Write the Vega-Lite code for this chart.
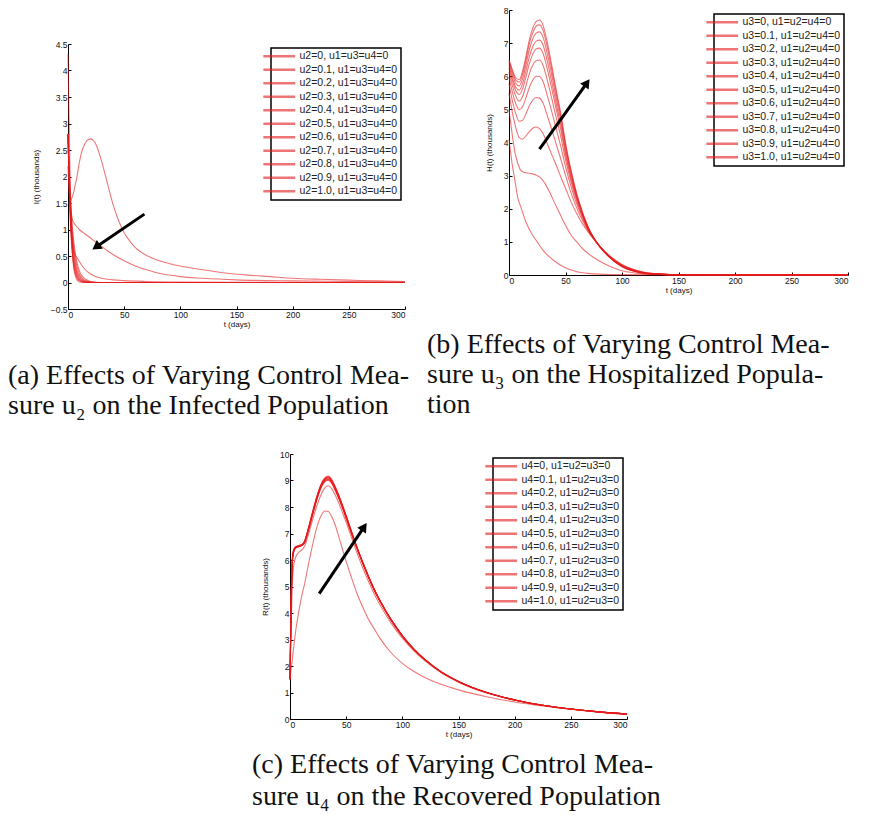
{
"$schema": "https://vega.github.io/schema/vega-lite/v6.json",
"padding": {"left": 8, "top": 6, "right": 0, "bottom": 0},
"background": "white",
"config": {
  "view": {"stroke": null},
  "title": {"font": "Liberation Serif", "fontSize": 28, "fontWeight": "normal", "color": "#111", "lineHeight": 30},
  "axis": {"grid": false, "domainColor": "black", "domainWidth": 1, "tickColor": "black", "tickSize": -3, "labelFont": "Liberation Sans", "labelFontSize": 8.5, "labelColor": "#111", "labelPadding": 4, "labelOverlap": false, "titleFont": "Liberation Sans", "titleFontSize": 8, "titleFontWeight": "normal", "titleColor": "#111"},
  "axisX": {"titlePadding": 2},
  "axisY": {"titlePadding": 10},
  "legend": {"orient": "top-right", "offset": 4, "strokeColor": "black", "strokeWidth": 1.5, "fillColor": "white", "padding": 3, "labelFont": "Liberation Sans", "labelFontSize": 10.5, "labelColor": "#222", "rowPadding": 2.5, "symbolType": "M-5.3,0H5.3", "symbolSize": 36, "symbolStrokeWidth": 2.5, "labelOffset": 15, "labelLimit": 200}
},
"resolve": {"scale": {"color": "independent"}, "legend": {"color": "independent"}},
"datasets": {
  "a": [
    {"s":0,"t":0,"v":1.5},{"s":0,"t":1,"v":1.5},{"s":0,"t":2,"v":1.53},{"s":0,"t":3,"v":1.57},{"s":0,"t":4,"v":1.63},{"s":0,"t":5,"v":1.7},{"s":0,"t":6,"v":1.8},{"s":0,"t":8,"v":2.0},{"s":0,"t":10,"v":2.25},{"s":0,"t":12,"v":2.45},{"s":0,"t":15,"v":2.62},{"s":0,"t":18,"v":2.7},{"s":0,"t":20,"v":2.71},{"s":0,"t":22,"v":2.69},{"s":0,"t":25,"v":2.6},{"s":0,"t":30,"v":2.28},{"s":0,"t":35,"v":1.88},{"s":0,"t":40,"v":1.48},{"s":0,"t":45,"v":1.17},{"s":0,"t":50,"v":0.94},{"s":0,"t":55,"v":0.78},{"s":0,"t":60,"v":0.66},{"s":0,"t":70,"v":0.51},{"s":0,"t":80,"v":0.42},{"s":0,"t":90,"v":0.36},{"s":0,"t":100,"v":0.31},{"s":0,"t":120,"v":0.24},{"s":0,"t":140,"v":0.18},{"s":0,"t":160,"v":0.14},{"s":0,"t":180,"v":0.11},{"s":0,"t":200,"v":0.08},{"s":0,"t":225,"v":0.06},{"s":0,"t":250,"v":0.045},{"s":0,"t":275,"v":0.03},{"s":0,"t":300,"v":0.02},
    {"s":0.1,"t":0,"v":2.2},{"s":0.1,"t":1,"v":1.75},{"s":0.1,"t":2,"v":1.45},{"s":0.1,"t":3,"v":1.28},{"s":0.1,"t":4,"v":1.18},{"s":0.1,"t":5,"v":1.13},{"s":0.1,"t":6,"v":1.1},{"s":0.1,"t":8,"v":1.05},{"s":0.1,"t":10,"v":1.0},{"s":0.1,"t":15,"v":0.92},{"s":0.1,"t":20,"v":0.84},{"s":0.1,"t":25,"v":0.76},{"s":0.1,"t":30,"v":0.68},{"s":0.1,"t":35,"v":0.6},{"s":0.1,"t":40,"v":0.53},{"s":0.1,"t":50,"v":0.41},{"s":0.1,"t":60,"v":0.31},{"s":0.1,"t":70,"v":0.24},{"s":0.1,"t":80,"v":0.18},{"s":0.1,"t":90,"v":0.14},{"s":0.1,"t":100,"v":0.11},{"s":0.1,"t":120,"v":0.08},{"s":0.1,"t":150,"v":0.05},{"s":0.1,"t":200,"v":0.03},{"s":0.1,"t":250,"v":0.02},{"s":0.1,"t":300,"v":0.01},
    {"s":0.2,"t":0,"v":2.8},{"s":0.2,"t":1,"v":2.0},{"s":0.2,"t":2,"v":1.4},{"s":0.2,"t":3,"v":1.0},{"s":0.2,"t":4,"v":0.75},{"s":0.2,"t":5,"v":0.6},{"s":0.2,"t":6,"v":0.53},{"s":0.2,"t":8,"v":0.47},{"s":0.2,"t":10,"v":0.4},{"s":0.2,"t":12,"v":0.33},{"s":0.2,"t":15,"v":0.25},{"s":0.2,"t":20,"v":0.16},{"s":0.2,"t":25,"v":0.11},{"s":0.2,"t":30,"v":0.08},{"s":0.2,"t":40,"v":0.05},{"s":0.2,"t":50,"v":0.035},{"s":0.2,"t":70,"v":0.02},{"s":0.2,"t":100,"v":0.01},{"s":0.2,"t":150,"v":0.005},{"s":0.2,"t":300,"v":0},
    {"s":0.3,"t":0,"v":2.8},{"s":0.3,"t":1,"v":2.18},{"s":0.3,"t":2,"v":1.7},{"s":0.3,"t":3,"v":1.32},{"s":0.3,"t":4,"v":1.03},{"s":0.3,"t":5,"v":0.8},{"s":0.3,"t":6,"v":0.63},{"s":0.3,"t":8,"v":0.38},{"s":0.3,"t":10,"v":0.23},{"s":0.3,"t":12,"v":0.14},{"s":0.3,"t":15,"v":0.07},{"s":0.3,"t":20,"v":0.02},{"s":0.3,"t":30,"v":0},{"s":0.3,"t":50,"v":0},{"s":0.3,"t":300,"v":0},
    {"s":0.4,"t":0,"v":2.8},{"s":0.4,"t":1,"v":2.12},{"s":0.4,"t":2,"v":1.6},{"s":0.4,"t":3,"v":1.21},{"s":0.4,"t":4,"v":0.91},{"s":0.4,"t":5,"v":0.69},{"s":0.4,"t":6,"v":0.52},{"s":0.4,"t":8,"v":0.3},{"s":0.4,"t":10,"v":0.17},{"s":0.4,"t":12,"v":0.1},{"s":0.4,"t":15,"v":0.04},{"s":0.4,"t":20,"v":0.01},{"s":0.4,"t":30,"v":0},{"s":0.4,"t":50,"v":0},{"s":0.4,"t":300,"v":0},
    {"s":0.5,"t":0,"v":2.8},{"s":0.5,"t":1,"v":2.05},{"s":0.5,"t":2,"v":1.51},{"s":0.5,"t":3,"v":1.11},{"s":0.5,"t":4,"v":0.81},{"s":0.5,"t":5,"v":0.59},{"s":0.5,"t":6,"v":0.44},{"s":0.5,"t":8,"v":0.23},{"s":0.5,"t":10,"v":0.13},{"s":0.5,"t":12,"v":0.07},{"s":0.5,"t":15,"v":0.03},{"s":0.5,"t":20,"v":0.01},{"s":0.5,"t":30,"v":0},{"s":0.5,"t":50,"v":0},{"s":0.5,"t":300,"v":0},
    {"s":0.6,"t":0,"v":2.8},{"s":0.6,"t":1,"v":1.99},{"s":0.6,"t":2,"v":1.42},{"s":0.6,"t":3,"v":1.01},{"s":0.6,"t":4,"v":0.72},{"s":0.6,"t":5,"v":0.51},{"s":0.6,"t":6,"v":0.36},{"s":0.6,"t":8,"v":0.18},{"s":0.6,"t":10,"v":0.09},{"s":0.6,"t":12,"v":0.05},{"s":0.6,"t":15,"v":0.02},{"s":0.6,"t":20,"v":0},{"s":0.6,"t":30,"v":0},{"s":0.6,"t":50,"v":0},{"s":0.6,"t":300,"v":0},
    {"s":0.7,"t":0,"v":2.8},{"s":0.7,"t":1,"v":1.93},{"s":0.7,"t":2,"v":1.34},{"s":0.7,"t":3,"v":0.92},{"s":0.7,"t":4,"v":0.64},{"s":0.7,"t":5,"v":0.44},{"s":0.7,"t":6,"v":0.3},{"s":0.7,"t":8,"v":0.15},{"s":0.7,"t":10,"v":0.07},{"s":0.7,"t":12,"v":0.03},{"s":0.7,"t":15,"v":0.01},{"s":0.7,"t":20,"v":0},{"s":0.7,"t":30,"v":0},{"s":0.7,"t":50,"v":0},{"s":0.7,"t":300,"v":0},
    {"s":0.8,"t":0,"v":2.8},{"s":0.8,"t":1,"v":1.88},{"s":0.8,"t":2,"v":1.26},{"s":0.8,"t":3,"v":0.84},{"s":0.8,"t":4,"v":0.57},{"s":0.8,"t":5,"v":0.38},{"s":0.8,"t":6,"v":0.25},{"s":0.8,"t":8,"v":0.11},{"s":0.8,"t":10,"v":0.05},{"s":0.8,"t":12,"v":0.02},{"s":0.8,"t":15,"v":0.01},{"s":0.8,"t":20,"v":0},{"s":0.8,"t":30,"v":0},{"s":0.8,"t":50,"v":0},{"s":0.8,"t":300,"v":0},
    {"s":0.9,"t":0,"v":2.8},{"s":0.9,"t":1,"v":1.82},{"s":0.9,"t":2,"v":1.19},{"s":0.9,"t":3,"v":0.77},{"s":0.9,"t":4,"v":0.5},{"s":0.9,"t":5,"v":0.33},{"s":0.9,"t":6,"v":0.21},{"s":0.9,"t":8,"v":0.09},{"s":0.9,"t":10,"v":0.04},{"s":0.9,"t":12,"v":0.02},{"s":0.9,"t":15,"v":0},{"s":0.9,"t":20,"v":0},{"s":0.9,"t":30,"v":0},{"s":0.9,"t":50,"v":0},{"s":0.9,"t":300,"v":0},
    {"s":1,"t":0,"v":4.3},{"s":1,"t":1,"v":3.0},{"s":1,"t":2,"v":1.8},{"s":1,"t":3,"v":1.0},{"s":1,"t":4,"v":0.55},{"s":1,"t":5,"v":0.3},{"s":1,"t":6,"v":0.17},{"s":1,"t":8,"v":0.05},{"s":1,"t":10,"v":0.015},{"s":1,"t":12,"v":0.005},{"s":1,"t":15,"v":0},{"s":1,"t":300,"v":0}
  ],
  "b": [
    {"s":0,"t":0,"v":4.1},{"s":0,"t":3,"v":3.3},{"s":0,"t":5,"v":2.9},{"s":0,"t":8,"v":2.3},{"s":0,"t":10,"v":2.1},{"s":0,"t":15,"v":1.6},{"s":0,"t":20,"v":1.25},{"s":0,"t":25,"v":1.0},{"s":0,"t":30,"v":0.75},{"s":0,"t":35,"v":0.57},{"s":0,"t":40,"v":0.43},{"s":0,"t":45,"v":0.31},{"s":0,"t":50,"v":0.22},{"s":0,"t":55,"v":0.15},{"s":0,"t":60,"v":0.1},{"s":0,"t":70,"v":0.05},{"s":0,"t":80,"v":0.025},{"s":0,"t":100,"v":0.01},{"s":0,"t":150,"v":0},{"s":0,"t":300,"v":0},
    {"s":0.1,"t":0,"v":5.0},{"s":0.1,"t":3,"v":4.2},{"s":0.1,"t":5,"v":3.75},{"s":0.1,"t":8,"v":3.35},{"s":0.1,"t":10,"v":3.18},{"s":0.1,"t":13,"v":3.1},{"s":0.1,"t":16,"v":3.08},{"s":0.1,"t":20,"v":3.06},{"s":0.1,"t":25,"v":3.0},{"s":0.1,"t":28,"v":2.93},{"s":0.1,"t":32,"v":2.75},{"s":0.1,"t":36,"v":2.5},{"s":0.1,"t":40,"v":2.2},{"s":0.1,"t":45,"v":1.85},{"s":0.1,"t":50,"v":1.5},{"s":0.1,"t":55,"v":1.2},{"s":0.1,"t":60,"v":1.0},{"s":0.1,"t":65,"v":0.8},{"s":0.1,"t":70,"v":0.65},{"s":0.1,"t":80,"v":0.42},{"s":0.1,"t":90,"v":0.25},{"s":0.1,"t":100,"v":0.13},{"s":0.1,"t":110,"v":0.07},{"s":0.1,"t":120,"v":0.035},{"s":0.1,"t":140,"v":0.01},{"s":0.1,"t":160,"v":0},{"s":0.1,"t":300,"v":0},
    {"s":0.2,"t":0,"v":5.5},{"s":0.2,"t":3,"v":4.9},{"s":0.2,"t":6,"v":4.45},{"s":0.2,"t":9,"v":4.15},{"s":0.2,"t":12,"v":4.1},{"s":0.2,"t":15,"v":4.2},{"s":0.2,"t":18,"v":4.33},{"s":0.2,"t":21,"v":4.43},{"s":0.2,"t":24,"v":4.47},{"s":0.2,"t":27,"v":4.42},{"s":0.2,"t":30,"v":4.28},{"s":0.2,"t":34,"v":3.95},{"s":0.2,"t":38,"v":3.62},{"s":0.2,"t":42,"v":3.3},{"s":0.2,"t":46,"v":2.95},{"s":0.2,"t":50,"v":2.62},{"s":0.2,"t":55,"v":2.2},{"s":0.2,"t":60,"v":1.85},{"s":0.2,"t":65,"v":1.55},{"s":0.2,"t":70,"v":1.3},{"s":0.2,"t":75,"v":1.08},{"s":0.2,"t":80,"v":0.88},{"s":0.2,"t":90,"v":0.55},{"s":0.2,"t":100,"v":0.32},{"s":0.2,"t":110,"v":0.17},{"s":0.2,"t":120,"v":0.08},{"s":0.2,"t":135,"v":0.03},{"s":0.2,"t":150,"v":0.01},{"s":0.2,"t":200,"v":0},{"s":0.2,"t":300,"v":0},
    {"s":0.3,"t":0,"v":5.78},{"s":0.3,"t":3,"v":5.26},{"s":0.3,"t":6,"v":4.87},{"s":0.3,"t":9,"v":4.64},{"s":0.3,"t":12,"v":4.67},{"s":0.3,"t":15,"v":4.87},{"s":0.3,"t":18,"v":5.11},{"s":0.3,"t":21,"v":5.28},{"s":0.3,"t":24,"v":5.36},{"s":0.3,"t":27,"v":5.34},{"s":0.3,"t":30,"v":5.2},{"s":0.3,"t":34,"v":4.8},{"s":0.3,"t":38,"v":4.37},{"s":0.3,"t":42,"v":3.93},{"s":0.3,"t":46,"v":3.48},{"s":0.3,"t":50,"v":3.01},{"s":0.3,"t":55,"v":2.47},{"s":0.3,"t":60,"v":2.02},{"s":0.3,"t":65,"v":1.65},{"s":0.3,"t":70,"v":1.34},{"s":0.3,"t":75,"v":1.09},{"s":0.3,"t":80,"v":0.88},{"s":0.3,"t":90,"v":0.54},{"s":0.3,"t":100,"v":0.3},{"s":0.3,"t":110,"v":0.16},{"s":0.3,"t":120,"v":0.07},{"s":0.3,"t":135,"v":0.03},{"s":0.3,"t":150,"v":0.01},{"s":0.3,"t":200,"v":0},{"s":0.3,"t":300,"v":0},
    {"s":0.4,"t":0,"v":5.98},{"s":0.4,"t":3,"v":5.52},{"s":0.4,"t":6,"v":5.17},{"s":0.4,"t":9,"v":4.99},{"s":0.4,"t":12,"v":5.08},{"s":0.4,"t":15,"v":5.35},{"s":0.4,"t":18,"v":5.66},{"s":0.4,"t":21,"v":5.88},{"s":0.4,"t":24,"v":6.0},{"s":0.4,"t":27,"v":5.99},{"s":0.4,"t":30,"v":5.85},{"s":0.4,"t":34,"v":5.41},{"s":0.4,"t":38,"v":4.91},{"s":0.4,"t":42,"v":4.38},{"s":0.4,"t":46,"v":3.86},{"s":0.4,"t":50,"v":3.28},{"s":0.4,"t":55,"v":2.66},{"s":0.4,"t":60,"v":2.14},{"s":0.4,"t":65,"v":1.72},{"s":0.4,"t":70,"v":1.37},{"s":0.4,"t":75,"v":1.1},{"s":0.4,"t":80,"v":0.88},{"s":0.4,"t":90,"v":0.53},{"s":0.4,"t":100,"v":0.29},{"s":0.4,"t":110,"v":0.15},{"s":0.4,"t":120,"v":0.07},{"s":0.4,"t":135,"v":0.03},{"s":0.4,"t":150,"v":0.01},{"s":0.4,"t":200,"v":0},{"s":0.4,"t":300,"v":0},
    {"s":0.5,"t":0,"v":6.13},{"s":0.5,"t":3,"v":5.72},{"s":0.5,"t":6,"v":5.4},{"s":0.5,"t":9,"v":5.25},{"s":0.5,"t":12,"v":5.39},{"s":0.5,"t":15,"v":5.71},{"s":0.5,"t":18,"v":6.08},{"s":0.5,"t":21,"v":6.33},{"s":0.5,"t":24,"v":6.47},{"s":0.5,"t":27,"v":6.49},{"s":0.5,"t":30,"v":6.34},{"s":0.5,"t":34,"v":5.87},{"s":0.5,"t":38,"v":5.31},{"s":0.5,"t":42,"v":4.72},{"s":0.5,"t":46,"v":4.15},{"s":0.5,"t":50,"v":3.49},{"s":0.5,"t":55,"v":2.8},{"s":0.5,"t":60,"v":2.23},{"s":0.5,"t":65,"v":1.77},{"s":0.5,"t":70,"v":1.39},{"s":0.5,"t":75,"v":1.11},{"s":0.5,"t":80,"v":0.87},{"s":0.5,"t":90,"v":0.52},{"s":0.5,"t":100,"v":0.28},{"s":0.5,"t":110,"v":0.14},{"s":0.5,"t":120,"v":0.06},{"s":0.5,"t":135,"v":0.02},{"s":0.5,"t":150,"v":0.01},{"s":0.5,"t":200,"v":0},{"s":0.5,"t":300,"v":0},
    {"s":0.6,"t":0,"v":6.24},{"s":0.6,"t":3,"v":5.86},{"s":0.6,"t":6,"v":5.56},{"s":0.6,"t":9,"v":5.45},{"s":0.6,"t":12,"v":5.62},{"s":0.6,"t":15,"v":5.98},{"s":0.6,"t":18,"v":6.38},{"s":0.6,"t":21,"v":6.66},{"s":0.6,"t":24,"v":6.82},{"s":0.6,"t":27,"v":6.85},{"s":0.6,"t":30,"v":6.7},{"s":0.6,"t":34,"v":6.21},{"s":0.6,"t":38,"v":5.6},{"s":0.6,"t":42,"v":4.97},{"s":0.6,"t":46,"v":4.36},{"s":0.6,"t":50,"v":3.64},{"s":0.6,"t":55,"v":2.9},{"s":0.6,"t":60,"v":2.29},{"s":0.6,"t":65,"v":1.81},{"s":0.6,"t":70,"v":1.41},{"s":0.6,"t":75,"v":1.11},{"s":0.6,"t":80,"v":0.87},{"s":0.6,"t":90,"v":0.51},{"s":0.6,"t":100,"v":0.27},{"s":0.6,"t":110,"v":0.13},{"s":0.6,"t":120,"v":0.06},{"s":0.6,"t":135,"v":0.02},{"s":0.6,"t":150,"v":0.01},{"s":0.6,"t":200,"v":0},{"s":0.6,"t":300,"v":0},
    {"s":0.7,"t":0,"v":6.32},{"s":0.7,"t":3,"v":5.96},{"s":0.7,"t":6,"v":5.67},{"s":0.7,"t":9,"v":5.58},{"s":0.7,"t":12,"v":5.77},{"s":0.7,"t":15,"v":6.16},{"s":0.7,"t":18,"v":6.59},{"s":0.7,"t":21,"v":6.89},{"s":0.7,"t":24,"v":7.06},{"s":0.7,"t":27,"v":7.09},{"s":0.7,"t":30,"v":6.95},{"s":0.7,"t":34,"v":6.44},{"s":0.7,"t":38,"v":5.8},{"s":0.7,"t":42,"v":5.13},{"s":0.7,"t":46,"v":4.5},{"s":0.7,"t":50,"v":3.74},{"s":0.7,"t":55,"v":2.97},{"s":0.7,"t":60,"v":2.34},{"s":0.7,"t":65,"v":1.84},{"s":0.7,"t":70,"v":1.42},{"s":0.7,"t":75,"v":1.11},{"s":0.7,"t":80,"v":0.87},{"s":0.7,"t":90,"v":0.51},{"s":0.7,"t":100,"v":0.26},{"s":0.7,"t":110,"v":0.13},{"s":0.7,"t":120,"v":0.06},{"s":0.7,"t":135,"v":0.02},{"s":0.7,"t":150,"v":0.01},{"s":0.7,"t":200,"v":0},{"s":0.7,"t":300,"v":0},
    {"s":0.8,"t":0,"v":6.39},{"s":0.8,"t":3,"v":6.06},{"s":0.8,"t":6,"v":5.79},{"s":0.8,"t":9,"v":5.71},{"s":0.8,"t":12,"v":5.92},{"s":0.8,"t":15,"v":6.34},{"s":0.8,"t":18,"v":6.8},{"s":0.8,"t":21,"v":7.12},{"s":0.8,"t":24,"v":7.3},{"s":0.8,"t":27,"v":7.34},{"s":0.8,"t":30,"v":7.19},{"s":0.8,"t":34,"v":6.66},{"s":0.8,"t":38,"v":6.01},{"s":0.8,"t":42,"v":5.3},{"s":0.8,"t":46,"v":4.64},{"s":0.8,"t":50,"v":3.85},{"s":0.8,"t":55,"v":3.05},{"s":0.8,"t":60,"v":2.38},{"s":0.8,"t":65,"v":1.86},{"s":0.8,"t":70,"v":1.43},{"s":0.8,"t":75,"v":1.12},{"s":0.8,"t":80,"v":0.87},{"s":0.8,"t":90,"v":0.51},{"s":0.8,"t":100,"v":0.26},{"s":0.8,"t":110,"v":0.13},{"s":0.8,"t":120,"v":0.05},{"s":0.8,"t":135,"v":0.02},{"s":0.8,"t":150,"v":0.01},{"s":0.8,"t":200,"v":0},{"s":0.8,"t":300,"v":0},
    {"s":0.9,"t":0,"v":6.46},{"s":0.9,"t":3,"v":6.14},{"s":0.9,"t":6,"v":5.88},{"s":0.9,"t":9,"v":5.82},{"s":0.9,"t":12,"v":6.06},{"s":0.9,"t":15,"v":6.49},{"s":0.9,"t":18,"v":6.98},{"s":0.9,"t":21,"v":7.31},{"s":0.9,"t":24,"v":7.51},{"s":0.9,"t":27,"v":7.55},{"s":0.9,"t":30,"v":7.4},{"s":0.9,"t":34,"v":6.86},{"s":0.9,"t":38,"v":6.18},{"s":0.9,"t":42,"v":5.45},{"s":0.9,"t":46,"v":4.76},{"s":0.9,"t":50,"v":3.94},{"s":0.9,"t":55,"v":3.11},{"s":0.9,"t":60,"v":2.42},{"s":0.9,"t":65,"v":1.88},{"s":0.9,"t":70,"v":1.44},{"s":0.9,"t":75,"v":1.12},{"s":0.9,"t":80,"v":0.87},{"s":0.9,"t":90,"v":0.5},{"s":0.9,"t":100,"v":0.25},{"s":0.9,"t":110,"v":0.12},{"s":0.9,"t":120,"v":0.05},{"s":0.9,"t":135,"v":0.02},{"s":0.9,"t":150,"v":0.01},{"s":0.9,"t":200,"v":0},{"s":0.9,"t":300,"v":0},
    {"s":1,"t":0,"v":6.5},{"s":1,"t":3,"v":6.2},{"s":1,"t":6,"v":5.95},{"s":1,"t":9,"v":5.9},{"s":1,"t":12,"v":6.15},{"s":1,"t":15,"v":6.6},{"s":1,"t":18,"v":7.1},{"s":1,"t":21,"v":7.45},{"s":1,"t":24,"v":7.65},{"s":1,"t":27,"v":7.7},{"s":1,"t":30,"v":7.55},{"s":1,"t":34,"v":7.0},{"s":1,"t":38,"v":6.3},{"s":1,"t":42,"v":5.55},{"s":1,"t":46,"v":4.85},{"s":1,"t":50,"v":4.0},{"s":1,"t":55,"v":3.15},{"s":1,"t":60,"v":2.45},{"s":1,"t":65,"v":1.9},{"s":1,"t":70,"v":1.45},{"s":1,"t":75,"v":1.12},{"s":1,"t":80,"v":0.87},{"s":1,"t":90,"v":0.5},{"s":1,"t":100,"v":0.25},{"s":1,"t":110,"v":0.12},{"s":1,"t":120,"v":0.05},{"s":1,"t":135,"v":0.02},{"s":1,"t":150,"v":0.005},{"s":1,"t":200,"v":0},{"s":1,"t":300,"v":0}
  ],
  "c": [
    {"s":0,"t":0,"v":1.5},{"s":0,"t":1,"v":1.9},{"s":0,"t":2,"v":2.2},{"s":0,"t":3,"v":2.6},{"s":0,"t":5,"v":3.3},{"s":0,"t":8,"v":4.1},{"s":0,"t":11,"v":4.75},{"s":0,"t":13,"v":5.1},{"s":0,"t":16,"v":5.75},{"s":0,"t":20,"v":6.55},{"s":0,"t":24,"v":7.25},{"s":0,"t":28,"v":7.7},{"s":0,"t":31,"v":7.85},{"s":0,"t":34,"v":7.83},{"s":0,"t":37,"v":7.65},{"s":0,"t":40,"v":7.35},{"s":0,"t":45,"v":6.65},{"s":0,"t":50,"v":5.95},{"s":0,"t":55,"v":5.3},{"s":0,"t":60,"v":4.7},{"s":0,"t":65,"v":4.2},{"s":0,"t":70,"v":3.75},{"s":0,"t":75,"v":3.4},{"s":0,"t":80,"v":3.05},{"s":0,"t":90,"v":2.5},{"s":0,"t":100,"v":2.1},{"s":0,"t":110,"v":1.8},{"s":0,"t":120,"v":1.57},{"s":0,"t":135,"v":1.3},{"s":0,"t":150,"v":1.1},{"s":0,"t":175,"v":0.84},{"s":0,"t":200,"v":0.64},{"s":0,"t":225,"v":0.49},{"s":0,"t":250,"v":0.37},{"s":0,"t":275,"v":0.26},{"s":0,"t":300,"v":0.16},
    {"s":0.1,"t":0,"v":1.5},{"s":0.1,"t":1,"v":3.5},{"s":0.1,"t":2,"v":5.0},{"s":0.1,"t":3,"v":5.7},{"s":0.1,"t":5,"v":6.1},{"s":0.1,"t":8,"v":6.3},{"s":0.1,"t":11,"v":6.4},{"s":0.1,"t":13,"v":6.52},{"s":0.1,"t":16,"v":6.9},{"s":0.1,"t":20,"v":7.5},{"s":0.1,"t":24,"v":8.05},{"s":0.1,"t":28,"v":8.5},{"s":0.1,"t":31,"v":8.72},{"s":0.1,"t":34,"v":8.8},{"s":0.1,"t":37,"v":8.7},{"s":0.1,"t":40,"v":8.47},{"s":0.1,"t":45,"v":7.98},{"s":0.1,"t":50,"v":7.42},{"s":0.1,"t":55,"v":6.82},{"s":0.1,"t":60,"v":6.22},{"s":0.1,"t":65,"v":5.68},{"s":0.1,"t":70,"v":5.18},{"s":0.1,"t":75,"v":4.72},{"s":0.1,"t":80,"v":4.32},{"s":0.1,"t":90,"v":3.62},{"s":0.1,"t":100,"v":3.05},{"s":0.1,"t":110,"v":2.58},{"s":0.1,"t":120,"v":2.2},{"s":0.1,"t":135,"v":1.73},{"s":0.1,"t":150,"v":1.39},{"s":0.1,"t":175,"v":0.98},{"s":0.1,"t":200,"v":0.71},{"s":0.1,"t":225,"v":0.51},{"s":0.1,"t":250,"v":0.37},{"s":0.1,"t":275,"v":0.26},{"s":0.1,"t":300,"v":0.18},
    {"s":0.2,"t":0,"v":1.5},{"s":0.2,"t":1,"v":4.2},{"s":0.2,"t":2,"v":5.8},{"s":0.2,"t":3,"v":6.25},{"s":0.2,"t":5,"v":6.45},{"s":0.2,"t":8,"v":6.5},{"s":0.2,"t":11,"v":6.55},{"s":0.2,"t":13,"v":6.65},{"s":0.2,"t":16,"v":7.05},{"s":0.2,"t":20,"v":7.68},{"s":0.2,"t":24,"v":8.28},{"s":0.2,"t":28,"v":8.75},{"s":0.2,"t":31,"v":8.95},{"s":0.2,"t":34,"v":9.0},{"s":0.2,"t":37,"v":8.9},{"s":0.2,"t":40,"v":8.65},{"s":0.2,"t":45,"v":8.15},{"s":0.2,"t":50,"v":7.57},{"s":0.2,"t":55,"v":6.96},{"s":0.2,"t":60,"v":6.38},{"s":0.2,"t":65,"v":5.84},{"s":0.2,"t":70,"v":5.33},{"s":0.2,"t":75,"v":4.86},{"s":0.2,"t":80,"v":4.45},{"s":0.2,"t":90,"v":3.73},{"s":0.2,"t":100,"v":3.13},{"s":0.2,"t":110,"v":2.64},{"s":0.2,"t":120,"v":2.24},{"s":0.2,"t":135,"v":1.76},{"s":0.2,"t":150,"v":1.41},{"s":0.2,"t":175,"v":1.0},{"s":0.2,"t":200,"v":0.72},{"s":0.2,"t":225,"v":0.52},{"s":0.2,"t":250,"v":0.38},{"s":0.2,"t":275,"v":0.27},{"s":0.2,"t":300,"v":0.19},
    {"s":0.3,"t":0,"v":1.5},{"s":0.3,"t":1,"v":4.24},{"s":0.3,"t":2,"v":5.83},{"s":0.3,"t":3,"v":6.26},{"s":0.3,"t":5,"v":6.46},{"s":0.3,"t":8,"v":6.51},{"s":0.3,"t":11,"v":6.56},{"s":0.3,"t":13,"v":6.66},{"s":0.3,"t":16,"v":7.06},{"s":0.3,"t":20,"v":7.7},{"s":0.3,"t":24,"v":8.3},{"s":0.3,"t":28,"v":8.77},{"s":0.3,"t":31,"v":8.97},{"s":0.3,"t":34,"v":9.02},{"s":0.3,"t":37,"v":8.92},{"s":0.3,"t":40,"v":8.67},{"s":0.3,"t":45,"v":8.17},{"s":0.3,"t":50,"v":7.58},{"s":0.3,"t":55,"v":6.97},{"s":0.3,"t":60,"v":6.39},{"s":0.3,"t":65,"v":5.85},{"s":0.3,"t":70,"v":5.34},{"s":0.3,"t":75,"v":4.86},{"s":0.3,"t":80,"v":4.45},{"s":0.3,"t":90,"v":3.73},{"s":0.3,"t":100,"v":3.13},{"s":0.3,"t":110,"v":2.64},{"s":0.3,"t":120,"v":2.24},{"s":0.3,"t":135,"v":1.76},{"s":0.3,"t":150,"v":1.41},{"s":0.3,"t":175,"v":1.0},{"s":0.3,"t":200,"v":0.72},{"s":0.3,"t":225,"v":0.52},{"s":0.3,"t":250,"v":0.38},{"s":0.3,"t":275,"v":0.27},{"s":0.3,"t":300,"v":0.19},
    {"s":0.4,"t":0,"v":1.5},{"s":0.4,"t":1,"v":4.28},{"s":0.4,"t":2,"v":5.85},{"s":0.4,"t":3,"v":6.28},{"s":0.4,"t":5,"v":6.46},{"s":0.4,"t":8,"v":6.51},{"s":0.4,"t":11,"v":6.56},{"s":0.4,"t":13,"v":6.67},{"s":0.4,"t":16,"v":7.08},{"s":0.4,"t":20,"v":7.71},{"s":0.4,"t":24,"v":8.32},{"s":0.4,"t":28,"v":8.79},{"s":0.4,"t":31,"v":8.99},{"s":0.4,"t":34,"v":9.04},{"s":0.4,"t":37,"v":8.94},{"s":0.4,"t":40,"v":8.69},{"s":0.4,"t":45,"v":8.18},{"s":0.4,"t":50,"v":7.6},{"s":0.4,"t":55,"v":6.98},{"s":0.4,"t":60,"v":6.4},{"s":0.4,"t":65,"v":5.86},{"s":0.4,"t":70,"v":5.34},{"s":0.4,"t":75,"v":4.87},{"s":0.4,"t":80,"v":4.46},{"s":0.4,"t":90,"v":3.74},{"s":0.4,"t":100,"v":3.14},{"s":0.4,"t":110,"v":2.64},{"s":0.4,"t":120,"v":2.24},{"s":0.4,"t":135,"v":1.76},{"s":0.4,"t":150,"v":1.41},{"s":0.4,"t":175,"v":1.0},{"s":0.4,"t":200,"v":0.72},{"s":0.4,"t":225,"v":0.52},{"s":0.4,"t":250,"v":0.38},{"s":0.4,"t":275,"v":0.27},{"s":0.4,"t":300,"v":0.19},
    {"s":0.5,"t":0,"v":1.5},{"s":0.5,"t":1,"v":4.31},{"s":0.5,"t":2,"v":5.88},{"s":0.5,"t":3,"v":6.29},{"s":0.5,"t":5,"v":6.47},{"s":0.5,"t":8,"v":6.52},{"s":0.5,"t":11,"v":6.57},{"s":0.5,"t":13,"v":6.68},{"s":0.5,"t":16,"v":7.09},{"s":0.5,"t":20,"v":7.73},{"s":0.5,"t":24,"v":8.33},{"s":0.5,"t":28,"v":8.81},{"s":0.5,"t":31,"v":9.01},{"s":0.5,"t":34,"v":9.06},{"s":0.5,"t":37,"v":8.96},{"s":0.5,"t":40,"v":8.71},{"s":0.5,"t":45,"v":8.2},{"s":0.5,"t":50,"v":7.61},{"s":0.5,"t":55,"v":6.99},{"s":0.5,"t":60,"v":6.41},{"s":0.5,"t":65,"v":5.86},{"s":0.5,"t":70,"v":5.35},{"s":0.5,"t":75,"v":4.88},{"s":0.5,"t":80,"v":4.46},{"s":0.5,"t":90,"v":3.74},{"s":0.5,"t":100,"v":3.14},{"s":0.5,"t":110,"v":2.64},{"s":0.5,"t":120,"v":2.24},{"s":0.5,"t":135,"v":1.76},{"s":0.5,"t":150,"v":1.41},{"s":0.5,"t":175,"v":1.0},{"s":0.5,"t":200,"v":0.72},{"s":0.5,"t":225,"v":0.52},{"s":0.5,"t":250,"v":0.38},{"s":0.5,"t":275,"v":0.27},{"s":0.5,"t":300,"v":0.19},
    {"s":0.6,"t":0,"v":1.5},{"s":0.6,"t":1,"v":4.35},{"s":0.6,"t":2,"v":5.9},{"s":0.6,"t":3,"v":6.3},{"s":0.6,"t":5,"v":6.48},{"s":0.6,"t":8,"v":6.53},{"s":0.6,"t":11,"v":6.58},{"s":0.6,"t":13,"v":6.69},{"s":0.6,"t":16,"v":7.1},{"s":0.6,"t":20,"v":7.74},{"s":0.6,"t":24,"v":8.35},{"s":0.6,"t":28,"v":8.83},{"s":0.6,"t":31,"v":9.03},{"s":0.6,"t":34,"v":9.09},{"s":0.6,"t":37,"v":8.98},{"s":0.6,"t":40,"v":8.73},{"s":0.6,"t":45,"v":8.22},{"s":0.6,"t":50,"v":7.63},{"s":0.6,"t":55,"v":7.01},{"s":0.6,"t":60,"v":6.42},{"s":0.6,"t":65,"v":5.87},{"s":0.6,"t":70,"v":5.36},{"s":0.6,"t":75,"v":4.88},{"s":0.6,"t":80,"v":4.47},{"s":0.6,"t":90,"v":3.74},{"s":0.6,"t":100,"v":3.14},{"s":0.6,"t":110,"v":2.65},{"s":0.6,"t":120,"v":2.25},{"s":0.6,"t":135,"v":1.77},{"s":0.6,"t":150,"v":1.42},{"s":0.6,"t":175,"v":1.0},{"s":0.6,"t":200,"v":0.72},{"s":0.6,"t":225,"v":0.52},{"s":0.6,"t":250,"v":0.38},{"s":0.6,"t":275,"v":0.27},{"s":0.6,"t":300,"v":0.19},
    {"s":0.7,"t":0,"v":1.5},{"s":0.7,"t":1,"v":4.39},{"s":0.7,"t":2,"v":5.93},{"s":0.7,"t":3,"v":6.31},{"s":0.7,"t":5,"v":6.48},{"s":0.7,"t":8,"v":6.53},{"s":0.7,"t":11,"v":6.58},{"s":0.7,"t":13,"v":6.69},{"s":0.7,"t":16,"v":7.11},{"s":0.7,"t":20,"v":7.76},{"s":0.7,"t":24,"v":8.37},{"s":0.7,"t":28,"v":8.84},{"s":0.7,"t":31,"v":9.04},{"s":0.7,"t":34,"v":9.11},{"s":0.7,"t":37,"v":8.99},{"s":0.7,"t":40,"v":8.74},{"s":0.7,"t":45,"v":8.23},{"s":0.7,"t":50,"v":7.64},{"s":0.7,"t":55,"v":7.02},{"s":0.7,"t":60,"v":6.42},{"s":0.7,"t":65,"v":5.88},{"s":0.7,"t":70,"v":5.36},{"s":0.7,"t":75,"v":4.89},{"s":0.7,"t":80,"v":4.47},{"s":0.7,"t":90,"v":3.74},{"s":0.7,"t":100,"v":3.14},{"s":0.7,"t":110,"v":2.65},{"s":0.7,"t":120,"v":2.25},{"s":0.7,"t":135,"v":1.77},{"s":0.7,"t":150,"v":1.42},{"s":0.7,"t":175,"v":1.0},{"s":0.7,"t":200,"v":0.72},{"s":0.7,"t":225,"v":0.52},{"s":0.7,"t":250,"v":0.38},{"s":0.7,"t":275,"v":0.27},{"s":0.7,"t":300,"v":0.19},
    {"s":0.8,"t":0,"v":1.5},{"s":0.8,"t":1,"v":4.43},{"s":0.8,"t":2,"v":5.95},{"s":0.8,"t":3,"v":6.33},{"s":0.8,"t":5,"v":6.49},{"s":0.8,"t":8,"v":6.54},{"s":0.8,"t":11,"v":6.59},{"s":0.8,"t":13,"v":6.7},{"s":0.8,"t":16,"v":7.13},{"s":0.8,"t":20,"v":7.77},{"s":0.8,"t":24,"v":8.39},{"s":0.8,"t":28,"v":8.86},{"s":0.8,"t":31,"v":9.06},{"s":0.8,"t":34,"v":9.13},{"s":0.8,"t":37,"v":9.01},{"s":0.8,"t":40,"v":8.76},{"s":0.8,"t":45,"v":8.25},{"s":0.8,"t":50,"v":7.65},{"s":0.8,"t":55,"v":7.03},{"s":0.8,"t":60,"v":6.43},{"s":0.8,"t":65,"v":5.89},{"s":0.8,"t":70,"v":5.37},{"s":0.8,"t":75,"v":4.89},{"s":0.8,"t":80,"v":4.47},{"s":0.8,"t":90,"v":3.75},{"s":0.8,"t":100,"v":3.15},{"s":0.8,"t":110,"v":2.65},{"s":0.8,"t":120,"v":2.25},{"s":0.8,"t":135,"v":1.77},{"s":0.8,"t":150,"v":1.42},{"s":0.8,"t":175,"v":1.0},{"s":0.8,"t":200,"v":0.72},{"s":0.8,"t":225,"v":0.52},{"s":0.8,"t":250,"v":0.38},{"s":0.8,"t":275,"v":0.27},{"s":0.8,"t":300,"v":0.19},
    {"s":0.9,"t":0,"v":1.5},{"s":0.9,"t":1,"v":4.46},{"s":0.9,"t":2,"v":5.98},{"s":0.9,"t":3,"v":6.34},{"s":0.9,"t":5,"v":6.49},{"s":0.9,"t":8,"v":6.54},{"s":0.9,"t":11,"v":6.59},{"s":0.9,"t":13,"v":6.71},{"s":0.9,"t":16,"v":7.14},{"s":0.9,"t":20,"v":7.79},{"s":0.9,"t":24,"v":8.4},{"s":0.9,"t":28,"v":8.88},{"s":0.9,"t":31,"v":9.08},{"s":0.9,"t":34,"v":9.15},{"s":0.9,"t":37,"v":9.03},{"s":0.9,"t":40,"v":8.78},{"s":0.9,"t":45,"v":8.26},{"s":0.9,"t":50,"v":7.67},{"s":0.9,"t":55,"v":7.04},{"s":0.9,"t":60,"v":6.44},{"s":0.9,"t":65,"v":5.89},{"s":0.9,"t":70,"v":5.37},{"s":0.9,"t":75,"v":4.9},{"s":0.9,"t":80,"v":4.48},{"s":0.9,"t":90,"v":3.75},{"s":0.9,"t":100,"v":3.15},{"s":0.9,"t":110,"v":2.65},{"s":0.9,"t":120,"v":2.25},{"s":0.9,"t":135,"v":1.77},{"s":0.9,"t":150,"v":1.42},{"s":0.9,"t":175,"v":1.0},{"s":0.9,"t":200,"v":0.72},{"s":0.9,"t":225,"v":0.52},{"s":0.9,"t":250,"v":0.38},{"s":0.9,"t":275,"v":0.27},{"s":0.9,"t":300,"v":0.19},
    {"s":1,"t":0,"v":1.5},{"s":1,"t":1,"v":4.5},{"s":1,"t":2,"v":6.0},{"s":1,"t":3,"v":6.35},{"s":1,"t":5,"v":6.5},{"s":1,"t":8,"v":6.55},{"s":1,"t":11,"v":6.6},{"s":1,"t":13,"v":6.72},{"s":1,"t":16,"v":7.15},{"s":1,"t":20,"v":7.8},{"s":1,"t":24,"v":8.42},{"s":1,"t":28,"v":8.9},{"s":1,"t":31,"v":9.1},{"s":1,"t":34,"v":9.17},{"s":1,"t":37,"v":9.05},{"s":1,"t":40,"v":8.8},{"s":1,"t":45,"v":8.28},{"s":1,"t":50,"v":7.68},{"s":1,"t":55,"v":7.05},{"s":1,"t":60,"v":6.45},{"s":1,"t":65,"v":5.9},{"s":1,"t":70,"v":5.38},{"s":1,"t":75,"v":4.9},{"s":1,"t":80,"v":4.48},{"s":1,"t":90,"v":3.75},{"s":1,"t":100,"v":3.15},{"s":1,"t":110,"v":2.65},{"s":1,"t":120,"v":2.25},{"s":1,"t":135,"v":1.77},{"s":1,"t":150,"v":1.42},{"s":1,"t":175,"v":1.0},{"s":1,"t":200,"v":0.72},{"s":1,"t":225,"v":0.52},{"s":1,"t":250,"v":0.38},{"s":1,"t":275,"v":0.27},{"s":1,"t":300,"v":0.19}
  ]
},
"vconcat": [
  {"hconcat": [
    {"vconcat": [
      {"width": 5, "height": 30, "data": {"values": []}, "mark": "point", "encoding": {}},
      {"width": 337, "height": 265,
       "title": {"text": ["(a) Effects of Varying Control Mea-", "sure u₂ on the Infected Population"], "orient": "bottom", "anchor": "start", "frame": "group", "dx": -60, "offset": 33},
       "encoding": {
         "x": {"field": "t", "type": "quantitative", "scale": {"domain": [0, 300], "nice": false}, "axis": {"values": [0, 50, 100, 150, 200, 250, 300], "title": "t (days)"}},
         "y": {"field": "v", "type": "quantitative", "scale": {"domain": [-0.5, 4.5], "nice": false, "zero": false}, "axis": {"values": [-0.5, 0, 0.5, 1, 1.5, 2, 2.5, 3, 3.5, 4, 4.5], "format": "~g", "title": "I(t) (thousands)"}}
       },
       "layer": [
        {"data": {"name": "a"}, "mark": {"type": "line", "interpolate": "monotone", "strokeWidth": 1.1, "opacity": 0.6},
         "encoding": {
          "color": {"field": "s", "type": "nominal", "scale": {"range": ["#e41a1c"]}, "legend": {"title": null, "labelExpr": "'u2=' + (datum.value == 1 ? '1.0' : datum.value) + ', u1=u3=u4=0'", "encode": {"symbols": {"update": {"stroke": {"value": "#c00000"}, "strokeWidth": {"value": 2.5}, "opacity": {"value": 1}}}}}}
         }},
        {"data": {"values": [{"t": 68, "v": 1.29, "t2": 25, "v2": 0.67}]}, "mark": {"type": "rule", "strokeWidth": 3, "color": "black"},
         "encoding": {"x2": {"field": "t2"}, "y2": {"field": "v2"}}},
        {"data": {"values": [{"t": 25, "v": 0.67}]}, "mark": {"type": "point", "shape": "triangle-up", "filled": true, "color": "black", "opacity": 1, "size": 110, "angle": 235}}
       ]}
    ], "spacing": 0, "resolve": {"scale": {"color": "independent"}, "legend": {"color": "independent"}}},
    {"width": 339, "height": 265,
     "title": {"text": ["(b) Effects of Varying Control Mea-", "sure u₃ on the Hospitalized Popula-", "tion"], "orient": "bottom", "anchor": "start", "frame": "group", "dx": -82, "offset": 36},
     "encoding": {
       "x": {"field": "t", "type": "quantitative", "scale": {"domain": [0, 300], "nice": false}, "axis": {"values": [0, 50, 100, 150, 200, 250, 300], "title": "t (days)"}},
       "y": {"field": "v", "type": "quantitative", "scale": {"domain": [0, 8], "nice": false}, "axis": {"values": [0, 1, 2, 3, 4, 5, 6, 7, 8], "title": "H(t) (thousands)"}}
     },
     "layer": [
      {"data": {"name": "b"}, "mark": {"type": "line", "interpolate": "monotone", "strokeWidth": 1.1, "opacity": 0.6},
       "encoding": {
        "color": {"field": "s", "type": "nominal", "scale": {"range": ["#e41a1c"]}, "legend": {"title": null, "labelExpr": "'u3=' + (datum.value == 1 ? '1.0' : datum.value) + ', u1=u2=u4=0'", "encode": {"symbols": {"update": {"stroke": {"value": "#c00000"}, "strokeWidth": {"value": 2.5}, "opacity": {"value": 1}}}}}}
       }},
      {"data": {"values": [{"t": 27, "v": 3.8, "t2": 69, "v2": 5.8}]}, "mark": {"type": "rule", "strokeWidth": 3, "color": "black"},
       "encoding": {"x2": {"field": "t2"}, "y2": {"field": "v2"}}},
      {"data": {"values": [{"t": 69, "v": 5.8}]}, "mark": {"type": "point", "shape": "triangle-up", "filled": true, "color": "black", "opacity": 1, "size": 110, "angle": 35}}
     ]}
  ], "spacing": 17, "resolve": {"scale": {"color": "independent"}, "legend": {"color": "independent"}}},
  {"hconcat": [
    {"width": 184, "height": 5, "data": {"values": []}, "mark": "point", "encoding": {}},
    {"width": 337, "height": 265,
     "title": {"text": ["(c) Effects of Varying Control Mea-", "sure u₄ on the Recovered Population"], "orient": "bottom", "anchor": "start", "frame": "group", "dx": -38, "offset": 12, "lineHeight": 32},
     "encoding": {
       "x": {"field": "t", "type": "quantitative", "scale": {"domain": [0, 300], "nice": false}, "axis": {"values": [0, 50, 100, 150, 200, 250, 300], "title": "t (days)"}},
       "y": {"field": "v", "type": "quantitative", "scale": {"domain": [0, 10], "nice": false}, "axis": {"values": [0, 1, 2, 3, 4, 5, 6, 7, 8, 9, 10], "title": "R(t) (thousands)"}}
     },
     "layer": [
      {"data": {"name": "c"}, "mark": {"type": "line", "interpolate": "monotone", "strokeWidth": 1.1, "opacity": 0.6},
       "encoding": {
        "color": {"field": "s", "type": "nominal", "scale": {"range": ["#e41a1c"]}, "legend": {"title": null, "labelExpr": "'u4=' + (datum.value == 1 ? '1.0' : datum.value) + ', u1=u2=u3=0'", "encode": {"symbols": {"update": {"stroke": {"value": "#c00000"}, "strokeWidth": {"value": 2.5}, "opacity": {"value": 1}}}}}}
       }},
      {"data": {"values": [{"t": 26, "v": 4.73, "t2": 66, "v2": 7.25}]}, "mark": {"type": "rule", "strokeWidth": 3, "color": "black"},
       "encoding": {"x2": {"field": "t2"}, "y2": {"field": "v2"}}},
      {"data": {"values": [{"t": 66, "v": 7.25}]}, "mark": {"type": "point", "shape": "triangle-up", "filled": true, "color": "black", "opacity": 1, "size": 110, "angle": 34}}
     ]}
  ], "spacing": 0, "resolve": {"scale": {"color": "independent"}, "legend": {"color": "independent"}}}
],
"spacing": 30
}
